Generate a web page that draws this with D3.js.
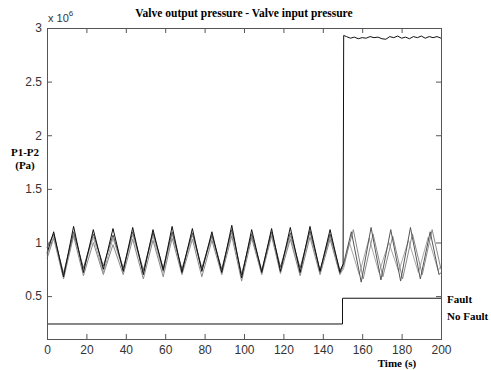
<!DOCTYPE html>
<html>
<head>
<meta charset="utf-8">
<script src="https://cdn.jsdelivr.net/npm/d3@7"></script>
<style>
  html, body { margin: 0; padding: 0; background: #fff; }
  svg { display: block; }
</style>
</head>
<body>
<svg id="chart" width="491" height="370"></svg>
<script>
// Pressure difference P1-P2, in units of 10^6 Pa
const xTicks = [0, 20, 40, 60, 80, 100, 120, 140, 160, 180, 200];
const yTicks = [0.5, 1, 1.5, 2, 2.5, 3];
const yTickLabels = ["0.5", "1", "1.5", "2", "2.5", "3"];

// Oscillation vertices (peaks / troughs) before the fault
const timePre = [0, 3.4, 8.4, 13.5, 18.5, 23.5, 28.6, 33.5, 38.7, 43.5, 48.9, 53.8, 59.0, 63.5, 68.5,
                 73.8, 78.6, 83.7, 88.7, 93.8, 98.8, 103.9, 109.0, 114.0, 118.5, 123.5, 128.5, 133.5,
                 138.6, 143.7, 148.7];
const runA_pre = [0.90, 1.10, 0.68, 1.15, 0.72, 1.12, 0.75, 1.13, 0.73, 1.14, 0.70, 1.12, 0.74, 1.15, 0.72,
                  1.13, 0.73, 1.10, 0.72, 1.16, 0.67, 1.12, 0.72, 1.13, 0.73, 1.14, 0.72, 1.15, 0.73, 1.12, 0.72];
const runB_pre = [0.95, 1.08, 0.70, 1.10, 0.76, 1.08, 0.78, 1.07, 0.76, 1.10, 0.74, 1.09, 0.76, 1.10, 0.75,
                  1.09, 0.76, 1.07, 0.75, 1.12, 0.70, 1.08, 0.74, 1.10, 0.77, 1.09, 0.76, 1.11, 0.74, 1.08, 0.74];
const runC_pre = [0.85, 1.04, 0.66, 1.06, 0.69, 1.00, 0.70, 0.98, 0.70, 1.03, 0.66, 1.02, 0.68, 1.04, 0.70,
                  1.03, 0.68, 1.02, 0.70, 1.06, 0.64, 1.04, 0.70, 1.06, 0.71, 1.03, 0.69, 1.05, 0.70, 1.03, 0.70];
const runD_pre = [0.88, 1.06, 0.72, 1.08, 0.74, 1.05, 0.72, 1.04, 0.74, 1.07, 0.72, 1.06, 0.72, 1.08, 0.73,
                  1.07, 0.74, 1.05, 0.73, 1.09, 0.70, 1.06, 0.73, 1.08, 0.74, 1.06, 0.72, 1.09, 0.72, 1.06, 0.71];

// After the fault (t >= 150 s)
const runA_postTime = [150.3, 150.6, 152, 154, 156, 158, 160, 162, 164, 166, 168, 170, 172, 174, 176, 178,
                       180, 182, 184, 186, 188, 190, 192, 194, 196, 198, 200];
const runA_post = [0.80, 2.93, 2.92, 2.905, 2.915, 2.90, 2.91, 2.905, 2.92, 2.91, 2.915, 2.90, 2.895, 2.92,
                   2.91, 2.925, 2.905, 2.915, 2.90, 2.92, 2.91, 2.925, 2.905, 2.92, 2.91, 2.92, 2.905];
const runB_postTime = [150.5, 154.5, 159.5, 164.5, 169.5, 174.5, 179.5, 184.5, 189.5, 194.5, 199, 200];
const runB_post = [0.80, 1.10, 0.63, 1.14, 0.65, 1.12, 0.64, 1.14, 0.66, 1.10, 0.70, 0.72];
const runC_postTime = [150.5, 155.5, 160.5, 165.5, 170.5, 175.5, 180.5, 185.5, 190.5, 195.5, 200];
const runC_post = [0.78, 1.12, 0.66, 1.08, 0.68, 1.06, 0.66, 1.08, 0.70, 1.12, 0.75];
const runD_postTime = [150.5, 153.5, 158.5, 163.5, 168.5, 173.5, 178.5, 183.5, 188.5, 193.5, 198.5, 200];
const runD_post = [0.75, 1.00, 0.70, 1.04, 0.72, 1.00, 0.73, 1.02, 0.72, 1.05, 0.74, 0.78];

// Fault indicator trace
const faultTime = [0, 150, 150, 200];
const faultLevel = [0.24, 0.24, 0.48, 0.48];

const svg = d3.select("#chart");
const L = 47, R = 441, T = 28, B = 339;

const x = d3.scaleLinear().domain([0, 200]).range([L, R]);
const y = d3.scaleLinear().domain([0.1, 3]).range([B, T]);

const axisColor = "#555";
const tickFont = "'Liberation Sans', Arial, sans-serif";
const serif = "'Liberation Serif', 'Times New Roman', serif";

// Data traces
const line = d3.line().x(d => x(d[0])).y(d => y(d[1]));
const zip = (ts, vs) => ts.map((t, i) => [t, vs[i]]);

const runs = [
  { pre: runD_pre, postT: runD_postTime, post: runD_post, color: "#a8a8a8" },
  { pre: runC_pre, postT: runC_postTime, post: runC_post, color: "#8a8a8a" },
  { pre: runB_pre, postT: runB_postTime, post: runB_post, color: "#555" },
  { pre: runA_pre, postT: runA_postTime, post: runA_post, color: "#111" }
];
const plot = svg.append("g");
runs.forEach(r => {
  plot.append("path")
    .attr("d", line(zip(timePre, r.pre).concat(zip(r.postT, r.post))))
    .attr("fill", "none")
    .attr("stroke", r.color)
    .attr("stroke-width", 1);
});

plot.append("path")
  .attr("d", line(zip(faultTime, faultLevel)))
  .attr("fill", "none")
  .attr("stroke", "#111")
  .attr("stroke-width", 1);

// Axes box with inward ticks
const gB = svg.append("g").attr("transform", `translate(0,${B})`)
  .call(d3.axisBottom(x).tickValues(xTicks).tickSizeInner(-5).tickSizeOuter(0).tickPadding(6));
const gT = svg.append("g").attr("transform", `translate(0,${T})`)
  .call(d3.axisTop(x).tickValues(xTicks).tickSizeInner(-5).tickSizeOuter(0).tickFormat(""));
const gL = svg.append("g").attr("transform", `translate(${L},0)`)
  .call(d3.axisLeft(y).tickValues(yTicks).tickSizeInner(-5).tickSizeOuter(0).tickPadding(5)
    .tickFormat((d, i) => yTickLabels[i]));
const gR = svg.append("g").attr("transform", `translate(${R},0)`)
  .call(d3.axisRight(y).tickValues(yTicks).tickSizeInner(-5).tickSizeOuter(0).tickFormat(""));

[gB, gT, gL, gR].forEach(g => {
  g.selectAll("path.domain").remove();
  g.selectAll("line").attr("stroke", axisColor);
  g.selectAll("text").attr("fill", "#333").style("font-family", tickFont).style("font-size", "12px");
});
svg.append("rect")
  .attr("x", L).attr("y", T).attr("width", R - L).attr("height", B - T)
  .attr("fill", "none").attr("stroke", axisColor).attr("shape-rendering", "crispEdges");

// Exponent marker
const ex = svg.append("text").attr("x", 48).attr("y", 22)
  .style("font-family", tickFont).style("font-size", "11px").attr("fill", "#333");
ex.append("tspan").text("x 10");
ex.append("tspan").attr("dy", -6).style("font-size", "8px").text("6");

// Title and labels
svg.append("text").attr("x", (L + R) / 2).attr("y", 17)
  .attr("text-anchor", "middle")
  .style("font-family", serif).style("font-size", "11.5px").style("font-weight", "bold")
  .text("Valve output pressure - Valve input pressure");

const yl = svg.append("text").attr("text-anchor", "middle")
  .style("font-family", serif).style("font-size", "11px").style("font-weight", "bold");
yl.append("tspan").attr("x", 25).attr("y", 156).text("P1-P2");
yl.append("tspan").attr("x", 25).attr("y", 169).text("(Pa)");

svg.append("text").attr("x", 397).attr("y", 367).attr("text-anchor", "middle")
  .style("font-family", serif).style("font-size", "11px").style("font-weight", "bold")
  .text("Time (s)");

svg.append("text").attr("x", 447).attr("y", 303)
  .style("font-family", serif).style("font-size", "11px").style("font-weight", "bold")
  .text("Fault");
svg.append("text").attr("x", 447).attr("y", 320)
  .style("font-family", serif).style("font-size", "11px").style("font-weight", "bold")
  .text("No Fault");
</script>
</body>
</html>
